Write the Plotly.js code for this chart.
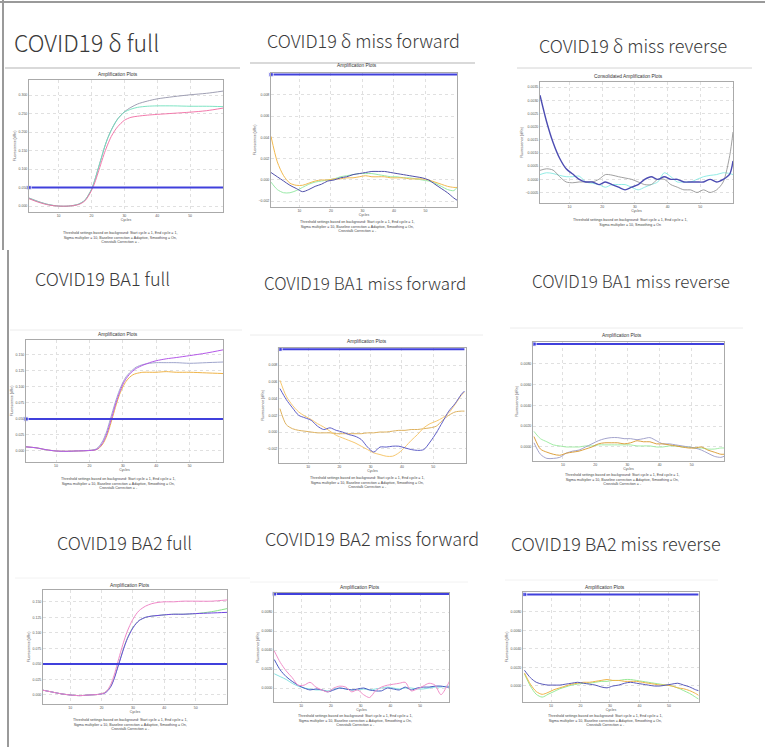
<!DOCTYPE html>
<html><head><meta charset="utf-8">
<script src="https://cdn.plot.ly/plotly-3.0.1.min.js"></script>
<style>html,body{margin:0;padding:0;background:#fff}#chart{width:765px;height:747px}</style>
</head><body><div id="chart"></div>
<script>
// ---------- data ----------
const deltaFullCycles = [1,4,7,10,13,16,18,20,21,22,23,24,25,26,27,28,30,32,34,37,40,45,50,55,60];
const deltaFullGray   = [0.022,0.012,0.004,0.0,0.0,0.005,0.016,0.045,0.07,0.10,0.13,0.16,0.185,0.205,0.222,0.236,0.255,0.267,0.276,0.284,0.290,0.296,0.301,0.305,0.311];
const deltaFullCyan   = [0.021,0.011,0.004,0.0,0.0,0.005,0.016,0.045,0.07,0.10,0.13,0.16,0.185,0.205,0.222,0.236,0.254,0.262,0.267,0.270,0.271,0.271,0.270,0.270,0.269];
const deltaFullPink   = [0.020,0.010,0.003,0.0,0.0,0.004,0.014,0.042,0.063,0.09,0.118,0.145,0.168,0.188,0.203,0.215,0.232,0.240,0.243,0.246,0.248,0.251,0.254,0.258,0.265];

const oddCycles = [1,3,5,7,9,11,13,15,17,19,21,23,25,27,29,31,33,35,37,39,41,43,45,47,49,51,53,55,57,59,60];

const deltaFwdOrange = [0.0041,0.0017,0.0004,-0.0003,-0.0005,-0.0005,-0.0003,-0.0001,0.0,0.0,0.0001,0.0001,0.0002,0.0002,0.0003,0.0004,0.0003,0.0003,0.0003,0.0002,0.0002,0.0002,0.0001,0.0001,0.0001,0.0,-0.0002,-0.0004,-0.0006,-0.0007,-0.0007];
const deltaFwdBlue   = [0.0007,0.0003,-0.0001,-0.0005,-0.0008,-0.0011,-0.0009,-0.0006,-0.0004,-0.0001,0.0,0.0002,0.0003,0.0005,0.0006,0.0007,0.0008,0.0008,0.0008,0.0007,0.0006,0.0005,0.0004,0.0003,0.0002,0.0,-0.0004,-0.0008,-0.0012,-0.0017,-0.0019];
const deltaFwdGreen  = [-0.0002,-0.0009,-0.0012,-0.0012,-0.001,-0.0007,-0.0004,-0.0002,-0.0001,0.0,0.0001,0.0003,0.0004,0.0005,0.0006,0.0006,0.0006,0.0005,0.0004,0.0003,0.0003,0.0002,0.0002,0.0001,0.0,-0.0001,-0.0003,-0.0006,-0.0009,-0.001,-0.0007];

const deltaRevBlue = [0.0032,0.0022,0.0014,0.0008,0.0004,0.0002,0.0,-0.0001,-0.0001,-0.0002,-0.0001,-0.0002,-0.0003,-0.0004,-0.0003,-0.0002,0.0,0.0001,0.0,0.0001,0.0,0.0,-0.0001,-0.0001,-0.0001,-0.0001,0.0,-0.0001,0.0,0.0002,0.0007];
const deltaRevGray = [0.00034,0.0004,0.00035,0.0001,-0.0001,-0.00013,-0.0001,-0.0001,-0.0001,0.0,0.00018,0.00016,0.0001,0.00005,0.0,-0.0001,-0.0002,-0.0002,0.0,0.0,-0.0002,-0.0003,-0.0004,-0.0004,-0.0005,-0.0004,-0.0005,-0.0004,-0.0001,0.0009,0.0018];
const deltaRevCyan = [0.00018,0.00025,0.00022,0.00015,0.0001,0.0001,0.00012,-0.0001,-0.00015,-0.0002,-0.0003,-0.0002,-0.0002,-0.0002,-0.0003,-0.0004,-0.0003,-0.0002,-0.0001,0.00025,0.0001,-0.0001,-0.0001,-0.0001,0.0,0.0001,0.00015,0.00018,0.00025,0.00022,0.00018];

const ba1FullCycles = [1,4,7,10,13,16,19,22,23,24,25,26,27,28,29,30,31,32,33,34,36,38,40,43,46,50,55,60];
const ba1FullGray   = [0.0065,0.005,0.002,0.0,-0.0005,0.0,0.0005,0.003,0.008,0.016,0.028,0.045,0.063,0.08,0.095,0.107,0.116,0.122,0.127,0.131,0.135,0.137,0.138,0.138,0.138,0.137,0.138,0.139];
const ba1FullPurple = [0.0065,0.005,0.002,0.0,-0.0005,0.0,0.0005,0.002,0.006,0.013,0.024,0.040,0.058,0.076,0.091,0.104,0.113,0.120,0.125,0.129,0.134,0.138,0.141,0.144,0.146,0.149,0.153,0.158];
const ba1FullOrange = [0.0065,0.005,0.002,0.0,-0.0005,0.0,0.0005,0.002,0.005,0.011,0.021,0.036,0.054,0.072,0.088,0.100,0.109,0.115,0.119,0.121,0.123,0.123,0.123,0.124,0.123,0.123,0.122,0.121];

const ba1FwdBlue    = [0.0052,0.0039,0.0029,0.002,0.0017,0.0014,0.0007,0.0003,0.0005,0.0002,0.0,-0.0003,-0.0005,-0.0009,-0.0018,-0.0024,-0.0018,-0.0018,-0.0017,-0.0017,-0.0019,-0.0021,-0.0022,-0.0021,-0.0012,-0.0001,0.0012,0.0025,0.0034,0.0045,0.0049];
const ba1FwdOrange  = [0.0062,0.0043,0.0032,0.0024,0.0019,0.0015,0.001,0.0006,0.0001,-0.0004,-0.0007,-0.001,-0.0013,-0.0017,-0.0021,-0.0025,-0.0027,-0.0029,-0.0029,-0.0025,-0.0018,-0.001,-0.0003,0.0005,0.001,0.0013,0.0017,0.0023,0.0033,0.0044,0.0048];
const ba1FwdTan     = [0.0028,0.0009,0.0004,0.0002,0.0001,0.0,-0.0001,-0.0001,-0.0001,-0.0002,-0.0002,-0.0002,-0.0002,-0.0002,-0.0001,-0.0001,0.0,0.0,0.0001,0.0002,0.0002,0.0003,0.0003,0.0004,0.0005,0.0007,0.0014,0.002,0.0024,0.0025,0.0025];

const ba1RevGreen   = [0.0015,0.0008,0.0005,0.0002,0.0001,0.0,0.0,0.0,0.0001,0.0001,0.0002,0.0002,0.0002,0.0002,0.0002,0.0002,0.0001,0.0001,0.0001,0.0,0.0,0.0001,0.0001,0.0,0.0,-0.0001,-0.0001,-0.0002,-0.0002,-0.0001,-0.0001];
const ba1RevOrange  = [0.001,-0.0002,-0.0005,-0.0007,-0.0008,-0.0006,-0.0005,-0.0004,-0.0002,0.0,0.0003,0.0004,0.0004,0.0004,0.0003,0.0004,0.0006,0.0005,0.0005,0.0003,0.0003,0.0002,0.0001,0.0,-0.0001,-0.0001,0.0,-0.0003,-0.0005,-0.0007,-0.0007];
const ba1RevGray    = [0.0004,-0.0007,-0.0011,-0.0011,-0.001,-0.0006,-0.0004,-0.0003,0.0,0.0003,0.0006,0.0008,0.0009,0.0009,0.0008,0.0008,0.0007,0.0008,0.0009,0.0006,0.0003,0.0003,0.0002,0.0001,0.0,-0.0001,-0.0003,-0.0006,-0.0009,-0.001,-0.0009];

const ba2FullCycles = [1,4,7,10,13,16,19,21,22,23,24,25,26,27,28,29,30,31,32,34,36,38,40,43,46,50,55,60];
const ba2FullPink   = [0.008,0.005,0.002,0.0,-0.001,0.0,0.001,0.004,0.009,0.018,0.032,0.050,0.068,0.085,0.100,0.112,0.122,0.130,0.136,0.143,0.147,0.149,0.150,0.150,0.151,0.151,0.151,0.153];
const ba2FullBlue   = [0.008,0.005,0.002,0.0,-0.001,0.0,0.001,0.003,0.007,0.014,0.026,0.042,0.058,0.074,0.088,0.099,0.108,0.115,0.120,0.125,0.127,0.128,0.129,0.130,0.130,0.131,0.132,0.133];
const ba2FullGreen  = [0.008,0.005,0.002,0.0,-0.001,0.0,0.001,0.004,0.008,0.015,0.027,0.043,0.059,0.075,0.089,0.100,0.109,0.115,0.120,0.125,0.127,0.128,0.129,0.130,0.130,0.131,0.134,0.139];

const ba2FwdPink    = [0.0039,0.0027,0.0018,0.0011,0.0003,0.0003,0.0006,0.0001,-0.0002,-0.0004,0.0,0.0002,0.0001,-0.0004,-0.0002,-0.0007,-0.001,-0.0003,0.0001,0.0003,0.0004,0.0005,0.0006,-0.0003,-0.0001,0.0002,0.0005,0.0003,-0.0007,0.0002,0.0008];
const ba2FwdBlue    = [0.003,0.0019,0.0012,0.0007,0.0003,0.0,-0.0002,-0.0001,-0.0002,-0.0004,-0.0002,0.0,-0.0001,-0.0002,-0.0001,0.0,-0.0002,-0.0003,-0.0003,0.0,-0.0001,-0.0002,0.0001,-0.0002,0.0,0.0001,0.0001,0.0002,0.0002,0.0001,0.0001];
const ba2FwdCyan    = [0.0015,0.0012,0.0009,0.0005,0.0002,0.0,-0.0001,-0.0002,-0.0002,-0.0003,-0.0001,0.0,-0.0001,-0.0002,-0.0002,-0.0001,-0.0002,-0.0001,0.0,0.0001,0.0,-0.0001,0.0,0.0,-0.0001,-0.0001,0.0,0.0001,0.0001,0.0002,0.0002];

const ba2RevBlue    = [0.0017,0.0009,0.0004,0.0002,0.0001,0.0001,0.0001,0.0002,0.0003,0.0004,0.0003,0.0002,0.0001,-0.0001,-0.0002,0.0,0.0001,0.0003,0.0004,0.0003,0.0002,0.0001,0.0,0.0,0.0001,0.0002,0.0003,0.0001,-0.0001,-0.0004,-0.0005];
const ba2RevOrange  = [0.0014,0.0002,-0.0006,-0.0009,-0.0007,-0.0004,-0.0002,0.0,0.0002,0.0003,0.0004,0.0004,0.0005,0.0006,0.0007,0.0006,0.0006,0.0005,0.0005,0.0005,0.0004,0.0003,0.0002,0.0001,0.0001,0.0,-0.0002,-0.0003,-0.0005,-0.0008,-0.001];
const ba2RevGreen   = [0.0013,0.0,-0.0009,-0.0012,-0.0009,-0.0006,-0.0003,-0.0001,0.0001,0.0002,0.0003,0.0003,0.0004,0.0005,0.0005,0.0006,0.0006,0.0007,0.0007,0.0006,0.0005,0.0004,0.0003,0.0002,0.0001,0.0,-0.0002,-0.0005,-0.0008,-0.0012,-0.0014];

const panelTitles = ['COVID19 δ full','COVID19 δ miss forward','COVID19 δ miss reverse',
  'COVID19 BA1 full','COVID19 BA1 miss forward','COVID19 BA1 miss reverse',
  'COVID19 BA2 full','COVID19 BA2 miss forward','COVID19 BA2 miss reverse'];
const plotTitles = ['Amplification Plots','Amplification Plots','Consolidated Amplification Plots',
  'Amplification Plots','Amplification Plots','Amplification Plots',
  'Amplification Plots','Amplification Plots','Amplification Plots'];
const thresholds = [0.05,0.0099,null,0.05,0.0099,0.0099,0.05,0.0099,0.0099];
const xTicks = [10,20,30,40,50];
const noteFull = 'Threshold settings based on background: Start cycle = 1, End cycle = 1,<br>Sigma multiplier = 10, Baseline correction = Adaptive, Smoothing = On,<br>Crosstalk Correction = -';
const noteCons = 'Threshold settings based on background: Start cycle = 1, End cycle = 1,<br>Sigma multiplier = 10, Smoothing = On';

// ---------- layout / drawing ----------
const W = 765, H = 747;
const panels = [
 {box:[29,223,80,212], xr:[1,60], yr:[-0.016,0.341], yt:[0,0.05,0.1,0.15,0.2,0.25,0.3], fmt:'.3f',
  cyc:deltaFullCycles, series:[[deltaFullGray,'#9494aa'],[deltaFullCyan,'#6fe0bc'],[deltaFullPink,'#f06aa2']], lw:0.9,
  t:[12,42,23], pt:[118,74], note:[120,229]},
 {box:[271,457,73,207], xr:[1,60], yr:[-0.00254,0.01005], yt:[-0.002,0,0.002,0.004,0.006,0.008], fmt:'.3f',
  cyc:oddCycles, series:[[deltaFwdGreen,'#9aeaa8'],[deltaFwdOrange,'#f2ba50'],[deltaFwdBlue,'#5050aa']], lw:1,
  t:[265,40,18], pt:[357,66], note:[357,218]},
 {box:[540,733,82,203], xr:[1,60], yr:[-0.0009,0.0037], yt:[-0.0005,0,0.0005,0.001,0.0015,0.002,0.0025,0.003,0.0035], fmt:'.4f',
  cyc:oddCycles, series:[[deltaRevCyan,'#86eae2',0.9],[deltaRevGray,'#959595',0.9],[deltaRevBlue,'#4c4cb2',1.4]], lw:1,
  t:[537,45,18], pt:[628,76], note:[630,216]},
 {box:[26,223,340,462], xr:[1,60], yr:[-0.0172,0.1734], yt:[0,0.025,0.05,0.075,0.1,0.125,0.15], fmt:'.3f',
  cyc:ba1FullCycles, series:[[ba1FullOrange,'#f0b448'],[ba1FullGray,'#a0a6cc'],[ba1FullPurple,'#b458e8']], lw:1,
  t:[33,278,18], pt:[118,334], note:[118,475]},
 {box:[279,466,348,463], xr:[0.7,60.5], yr:[-0.00371,0.01006], yt:[-0.002,0,0.002,0.004,0.006,0.008], fmt:'.3f',
  cyc:oddCycles, series:[[ba1FwdTan,'#deb260'],[ba1FwdOrange,'#f7c870'],[ba1FwdBlue,'#6060c8']], lw:1,
  t:[262,282,17], pt:[367,342], note:[367,474]},
 {box:[533,724,342,461], xr:[0.7,60], yr:[-0.00135,0.0101], yt:[0,0.002,0.004,0.006,0.008], fmt:'.4f',
  cyc:oddCycles, series:[[ba1RevGreen,'#98ea9c'],[ba1RevGray,'#9a9ac6'],[ba1RevOrange,'#d8962a']], lw:0.9,
  t:[530,280,17], pt:[622,335], note:[622,471]},
 {box:[43,227,590,704], xr:[1.3,60], yr:[-0.0145,0.169], yt:[0,0.025,0.05,0.075,0.1,0.125,0.15], fmt:'.3f',
  cyc:ba2FullCycles, series:[[ba2FullGreen,'#88e288'],[ba2FullBlue,'#7048e0'],[ba2FullPink,'#f088c8']], lw:1,
  t:[55,542,18], pt:[130,585], note:[130,716]},
 {box:[274,449,593,702], xr:[0.9,59.7], yr:[-0.00147,0.0100], yt:[0,0.002,0.004,0.006,0.008], fmt:'.4f',
  cyc:oddCycles, series:[[ba2FwdCyan,'#88e2e2'],[ba2FwdBlue,'#4858c2'],[ba2FwdPink,'#f290ca']], lw:1,
  t:[263,538,18], pt:[360,587], note:[355,712]},
 {box:[523,699,592,702], xr:[0.5,60.2], yr:[-0.00173,0.01016], yt:[0,0.002,0.004,0.006,0.008], fmt:'.4f',
  cyc:oddCycles, series:[[ba2RevGreen,'#98ea98'],[ba2RevOrange,'#f0b448'],[ba2RevBlue,'#5858ba']], lw:1,
  t:[509,543,18], pt:[605,587], note:[605,712]}
];

const traces = [];
const layout = {
  width: W, height: H, margin:{l:0,r:0,t:0,b:0}, showlegend:false,
  paper_bgcolor:'#fff', plot_bgcolor:'#fff',
  font:{family:'Liberation Sans, Arial, sans-serif', color:'#444'},
  annotations:[], shapes:[]
};
const px = x => x/W, py = y => 1 - y/H;

panels.forEach((p,i) => {
  const n = i+1, xa = 'x'+(n>1?n:''), ya = 'y'+(n>1?n:'');
  const [l,r,t,b] = p.box;
  layout['xaxis'+(n>1?n:'')] = {
    domain:[px(l),px(r)], range:p.xr, anchor:ya, tickvals:xTicks, ticks:'',
    showline:true, mirror:true, linecolor:'#aaaaaa', linewidth:1, zeroline:false,
    showgrid:true, gridcolor:'#e0e0e0', griddash:'dot', gridwidth:1,
    tickfont:{size:3.5,color:'#555'}, fixedrange:true,
    title:{text:'Cycles', font:{size:3.5,color:'#555'}, standoff:1}
  };
  layout['yaxis'+(n>1?n:'')] = {
    domain:[py(b),py(t)], range:p.yr, anchor:xa, tickvals:p.yt, tickformat:p.fmt, ticks:'',
    showline:true, mirror:true, linecolor:'#aaaaaa', linewidth:1, zeroline:false,
    showgrid:true, gridcolor:'#e0e0e0', griddash:'dot', gridwidth:1,
    tickfont:{size:3.5,color:'#555'}, fixedrange:true,
    title:{text:'Fluorescence (dRn)', font:{size:3.5,color:'#555'}, standoff:2}
  };
  p.series.forEach(([ys,color,w]) => {
    traces.push({type:'scatter', mode:'lines', x:p.cyc, y:ys, xaxis:xa, yaxis:ya,
      line:{color:color, width:(w||p.lw), shape:'spline', smoothing:0.8}, hoverinfo:'skip'});
  });
  if (thresholds[i] !== null) {
    const c0 = p.cyc[0], c1 = p.cyc[p.cyc.length-1];
    traces.push({type:'scatter', mode:'lines+markers', x:[c0,c1], y:[thresholds[i],thresholds[i]],
      xaxis:xa, yaxis:ya, cliponaxis:false,
      line:{color:'#4040dc', width:2}, marker:{symbol:'square', size:[4.5,0], color:'#4040dc'}, hoverinfo:'skip'});
  }
  layout.annotations.push({xref:'paper', yref:'paper', x:px(p.t[0]), y:py(p.t[1]), xanchor:'left', yanchor:'middle',
    text:panelTitles[i], showarrow:false,
    font:{family:'Noto Sans CJK JP, Noto Sans, sans-serif', size:p.t[2], color:'#3a3a3a', weight:300}});
  layout.annotations.push({xref:'paper', yref:'paper', x:px(p.pt[0]), y:py(p.pt[1]), xanchor:'center', yanchor:'middle',
    text:plotTitles[i], showarrow:false, font:{size:4.8,color:'#333'}});
  layout.annotations.push({xref:'paper', yref:'paper', x:px(p.note[0]), y:py(p.note[1]), xanchor:'center', yanchor:'top',
    text:(i===2?noteCons:noteFull), showarrow:false, align:'center', font:{size:3.6,color:'#444'}});
});

// frame and separators of the screenshot collage
const seg = (x0,y0,x1,y1,c,w) => layout.shapes.push({type:'line', xref:'paper', yref:'paper',
  x0:px(x0), y0:py(y0), x1:px(x1), y1:py(y1), line:{color:c, width:w}});
seg(0,2,765,2,'#9a9a9a',2);
seg(3,0,3,250,'#9a9a9a',2);
seg(8,250,8,747,'#9a9a9a',2);
seg(5,68,240,68,'#b4b4b4',1.2);
seg(250,63,475,63,'#b4b4b4',1.2);
seg(517,68,752,68,'#d4d4d4',1);
seg(10,330,242,330,'#ececec',1);
seg(250,335,483,335,'#ececec',1);
seg(510,328,743,328,'#ececec',1);
seg(15,578,250,578,'#f2f2f2',1);
seg(250,582,468,582,'#f2f2f2',1);
seg(505,580,718,580,'#f2f2f2',1);

Plotly.newPlot('chart', traces, layout, {staticPlot:true, displayModeBar:false});
</script></body></html>
